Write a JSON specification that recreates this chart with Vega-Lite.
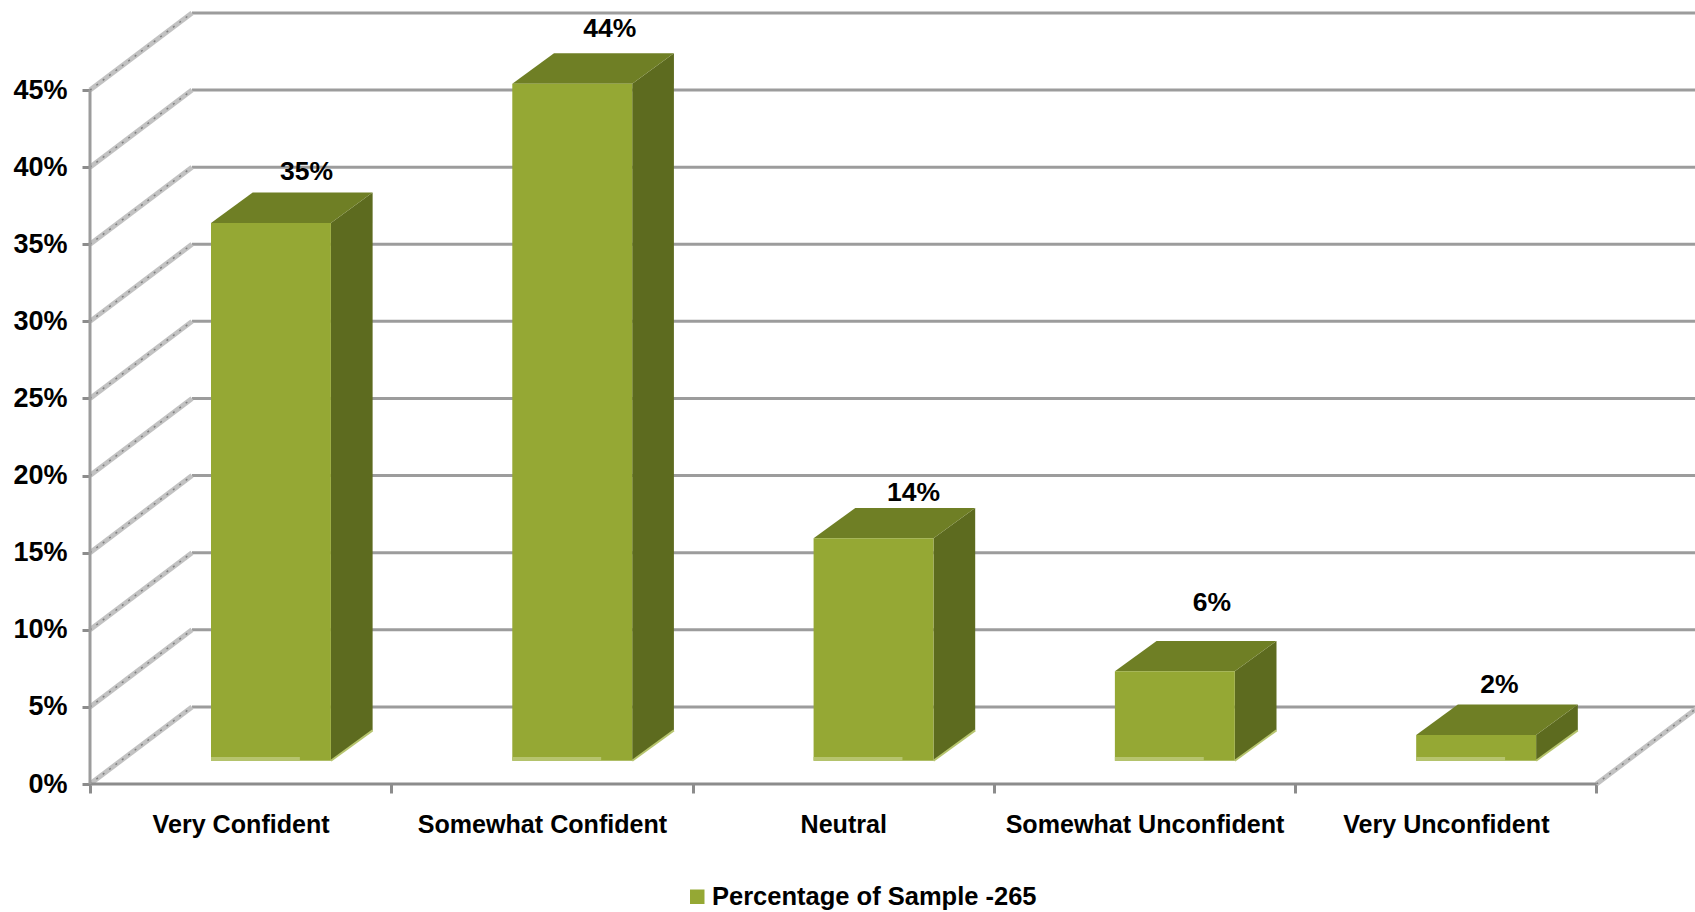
{"$schema":"https://vega.github.io/schema/vega-lite/v6.json","width":1605,"height":784,"autosize":{"type":"none"},"padding":{"left":90,"top":0,"right":0,"bottom":128},"background":"white","config":{"view":{"stroke":null},"font":"Liberation Sans"},"datasets":{"bars":[{"order":0,"category":"Very Confident","value":34.87,"label":"35%","series":"Percentage of Sample -265"},{"order":1,"category":"Somewhat Confident","value":43.9,"label":"44%","series":"Percentage of Sample -265"},{"order":2,"category":"Neutral","value":14.42,"label":"14%","series":"Percentage of Sample -265"},{"order":3,"category":"Somewhat Unconfident","value":5.8,"label":"6%","series":"Percentage of Sample -265"},{"order":4,"category":"Very Unconfident","value":1.67,"label":"2%","series":"Percentage of Sample -265"}],"levels":[{"level":0},{"level":5},{"level":10},{"level":15},{"level":20},{"level":25},{"level":30},{"level":35},{"level":40},{"level":45}]},"resolve":{"axis":{"x":"independent","y":"independent"},"scale":{"x":"shared","y":"shared"}},"layer":[{"data":{"name":"levels"},"transform":[{"calculate":"datum.level+5","as":"back"},{"calculate":"0.3385","as":"xa"},{"calculate":"5.33","as":"xb"}],"mark":{"type":"rule","color":"#9c9c9c","strokeWidth":3},"encoding":{"x":{"field":"xa","type":"quantitative","scale":{"domain":[0,5.327],"nice":false,"zero":false},"axis":{"values":[0,1,2,3,4,5],"title":null,"domain":false,"grid":false,"labels":false,"ticks":true,"tickSize":9,"tickColor":"#8c8c8c","tickWidth":3}},"x2":{"field":"xb"},"y":{"field":"back","type":"quantitative","scale":{"domain":[0,50.84],"nice":false,"zero":false},"axis":{"values":[0,5,10,15,20,25,30,35,40,45],"labelExpr":"datum.value+'%'","title":null,"domain":false,"grid":false,"tickSize":8,"tickColor":"#8c8c8c","tickWidth":3,"labelPadding":15,"labelFont":"Liberation Sans","labelFontWeight":"bold","labelFontSize":27,"labelColor":"#000000"}}}},{"data":{"name":"levels"},"transform":[{"calculate":"0","as":"xa"},{"calculate":"0.3385","as":"xb"},{"calculate":"datum.level+5","as":"back"}],"mark":{"type":"rule","color":"#c2c2c2","strokeWidth":5},"encoding":{"x":{"field":"xa","type":"quantitative","axis":null},"x2":{"field":"xb"},"y":{"field":"level","type":"quantitative","axis":null},"y2":{"field":"back"}}},{"data":{"name":"levels"},"transform":[{"calculate":"0","as":"xa"},{"calculate":"0.3385","as":"xb"},{"calculate":"datum.level+5","as":"back"}],"mark":{"type":"rule","color":"#808080","strokeWidth":1.5,"strokeDash":[2,6]},"encoding":{"x":{"field":"xa","type":"quantitative","axis":null},"x2":{"field":"xb"},"y":{"field":"level","type":"quantitative","axis":null},"y2":{"field":"back"}}},{"data":{"values":[{"level":0}]},"transform":[{"calculate":"5","as":"xa"},{"calculate":"5.3385","as":"xb"},{"calculate":"5","as":"back"}],"mark":{"type":"rule","color":"#c2c2c2","strokeWidth":5},"encoding":{"x":{"field":"xa","type":"quantitative","axis":null},"x2":{"field":"xb"},"y":{"field":"level","type":"quantitative","axis":null},"y2":{"field":"back"}}},{"data":{"values":[{"level":0}]},"transform":[{"calculate":"5","as":"xa"},{"calculate":"5.3385","as":"xb"},{"calculate":"5","as":"back"}],"mark":{"type":"rule","color":"#808080","strokeWidth":1.5,"strokeDash":[2,6]},"encoding":{"x":{"field":"xa","type":"quantitative","axis":null},"x2":{"field":"xb"},"y":{"field":"level","type":"quantitative","axis":null},"y2":{"field":"back"}}},{"data":{"values":[{"level":0}]},"transform":[{"calculate":"0","as":"xa"},{"calculate":"5","as":"xb"}],"mark":{"type":"rule","color":"#8c8c8c","strokeWidth":3},"encoding":{"x":{"field":"xa","type":"quantitative","axis":null},"x2":{"field":"xb"},"y":{"field":"level","type":"quantitative","axis":null}}},{"data":{"values":[{"xa":0,"ya":0,"yb":45}]},"mark":{"type":"rule","color":"#9c9c9c","strokeWidth":3},"encoding":{"x":{"field":"xa","type":"quantitative","axis":null},"y":{"field":"ya","type":"quantitative","axis":null},"y2":{"field":"yb"}}},{"data":{"values":[{"position":0.5,"category":"Very Confident"}]},"mark":{"type":"rule","opacity":0},"encoding":{"x":{"field":"position","type":"quantitative","axis":{"orient":"bottom","values":[0.5,1.5,2.5,3.5,4.5],"labelExpr":"['Very Confident','Somewhat Confident','Neutral','Somewhat Unconfident','Very Unconfident'][floor(datum.value)]","title":null,"domain":false,"grid":false,"ticks":false,"labelPadding":28,"labelFont":"Liberation Sans","labelFontWeight":"bold","labelFontSize":25.1,"labelColor":"#000000","labelOverlap":false,"labelLimit":400}}}},{"data":{"name":"bars"},"transform":[{"calculate":"[0,1]","as":"t"},{"flatten":["t"]},{"calculate":"datum.order+0.4016+0.398+datum.t*0.1384","as":"px"},{"calculate":"1.51+datum.t*1.97","as":"low"},{"calculate":"1.51+datum.value+datum.t*1.97","as":"high"}],"mark":{"type":"area","color":"#5d6b1f","orient":"vertical"},"encoding":{"x":{"field":"px","type":"quantitative","axis":null},"y":{"field":"low","type":"quantitative","axis":null},"y2":{"field":"high"},"detail":{"field":"category"}}},{"data":{"name":"bars"},"transform":[{"calculate":"[0,1]","as":"t"},{"flatten":["t"]},{"calculate":"datum.order+0.4016+datum.t*0.1384","as":"left"},{"calculate":"datum.order+0.4016+0.398+datum.t*0.1384","as":"right"},{"calculate":"1.51+datum.value+datum.t*1.97","as":"py"}],"mark":{"type":"area","color":"#6f7f25","orient":"horizontal"},"encoding":{"y":{"field":"py","type":"quantitative","axis":null},"x":{"field":"left","type":"quantitative","axis":null},"x2":{"field":"right"},"detail":{"field":"category"}}},{"data":{"name":"bars"},"transform":[{"calculate":"datum.order+0.4016","as":"left"},{"calculate":"datum.order+0.4016+0.398","as":"right"},{"calculate":"1.51","as":"base"},{"calculate":"1.51+datum.value","as":"top"}],"mark":{"type":"bar"},"encoding":{"x":{"field":"left","type":"quantitative","axis":null},"x2":{"field":"right"},"y":{"field":"base","type":"quantitative","axis":null},"y2":{"field":"top"},"color":{"field":"series","type":"nominal","scale":{"range":["#95a834"]},"legend":{"title":null,"orient":"none","legendX":594.5,"legendY":884,"symbolType":"square","symbolSize":210,"symbolStrokeWidth":0,"labelFont":"Liberation Sans","labelFontWeight":"bold","labelFontSize":25.5,"labelColor":"#000000","labelLimit":500,"labelOffset":2,"symbolOffset":0}}}},{"data":{"name":"bars"},"transform":[{"calculate":"datum.order+0.4016","as":"left"},{"calculate":"datum.order+0.4016+0.295","as":"right"},{"calculate":"1.51","as":"base"},{"calculate":"1.75","as":"top"}],"mark":{"type":"bar","color":"#b6c46e"},"encoding":{"x":{"field":"left","type":"quantitative","axis":null},"x2":{"field":"right"},"y":{"field":"base","type":"quantitative","axis":null},"y2":{"field":"top"}}},{"data":{"name":"bars"},"transform":[{"calculate":"datum.order+0.4016+0.398","as":"xa"},{"calculate":"datum.order+0.4016+0.398+0.1384","as":"xb"},{"calculate":"1.51","as":"ya"},{"calculate":"1.51+1.97","as":"yb"}],"mark":{"type":"rule","color":"#b6c46e","strokeWidth":2},"encoding":{"x":{"field":"xa","type":"quantitative","axis":null},"x2":{"field":"xb"},"y":{"field":"ya","type":"quantitative","axis":null},"y2":{"field":"yb"}}},{"data":{"name":"bars"},"transform":[{"calculate":"datum.order+[0.719,0.725,0.733,0.724,0.678][datum.order]","as":"lx"},{"calculate":"datum.value+[4.83,5.06,4.45,5.94,4.75][datum.order]","as":"ly"}],"mark":{"type":"text","font":"Liberation Sans","fontWeight":"bold","fontSize":26.5,"color":"#000000","baseline":"middle","align":"center"},"encoding":{"x":{"field":"lx","type":"quantitative","axis":null},"y":{"field":"ly","type":"quantitative","axis":null},"text":{"field":"label"}}}]}
